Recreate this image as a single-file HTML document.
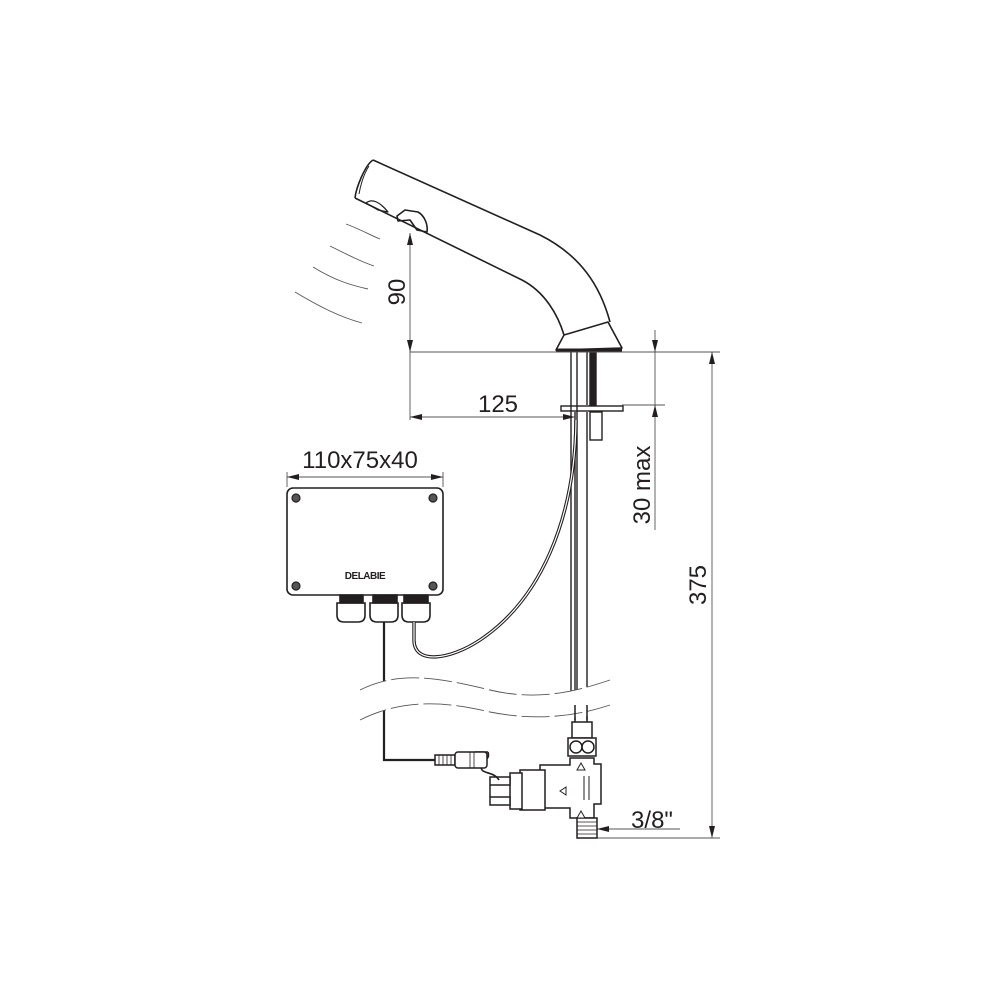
<!DOCTYPE html>
<html><head><meta charset="utf-8"><style>html,body{margin:0;padding:0;background:#fff}svg{display:block}text{font-family:"Liberation Sans",sans-serif;fill:#231f20}</style></head>
<body>
<svg width="1000" height="1000" viewBox="0 0 1000 1000" xmlns="http://www.w3.org/2000/svg">
<defs>
<marker id="a" viewBox="0 0 12 6" refX="12" refY="3" markerWidth="12" markerHeight="6" markerUnits="userSpaceOnUse" orient="auto-start-reverse"><path d="M0,0L12,3L0,6z" fill="#231f20"/></marker>
</defs>
<g fill="none" stroke="#231f20" stroke-width="1.6" stroke-linejoin="round">
<!-- spout -->
<path d="M373,160 L540,235 C580,255 600,285 610,322"/>
<path d="M355,198 L522,280 C545,292 558,315 564,335"/>
<path d="M373,160 C365,165 356,188 355,198"/>
<path d="M369,166 C363,175 360,188 359,194" stroke-width="1"/>
<path d="M366,203 C372,198 380,202 388,212 L378,210z" stroke-width="1.2"/>
<path d="M397,216 L405,210 L418,212 C425,216 428,225 427,232 L417,230 L410,220 L398,221z"/>
<!-- base -->
<path d="M564,335 L608,322 L622,348 L556,350 z"/>
<path d="M556,350 L622,350" stroke-width="3"/>
</g>
<g fill="none" stroke="#555" stroke-width="0.9">
<path d="M346,224 C362,230 372,236 380,239"/>
<path d="M330,246 C348,255 362,262 374,266"/>
<path d="M313,267 C334,280 350,285 368,289"/>
<path d="M295,292 C320,307 340,317 362,323"/>
</g>
<!-- shank -->
<g fill="none" stroke="#231f20" stroke-width="1.4">
<path d="M571,352 V700 M577,352 V700 M587,352 V405"/>
<rect x="590" y="352" width="6" height="53" fill="#231f20"/>
<rect x="561" y="406" width="62" height="5"/>
<rect x="590" y="412" width="12" height="28"/>
<path d="M575,412 V720 M587,412 V720"/>
</g>
<!-- dimensions -->
<g stroke="#555" stroke-width="0.9" fill="none">
<path d="M410,352 H720"/>
<path d="M410,233 V352" marker-start="url(#a)" marker-end="url(#a)"/>
<path d="M410,352 V420"/>
<path d="M410,417 H575" marker-start="url(#a)" marker-end="url(#a)"/>
<path d="M622,405 H665"/>
<path d="M655,330 V352" marker-end="url(#a)"/>
<path d="M655,352 V405"/>
<path d="M655,530 V405" marker-end="url(#a)"/>
<path d="M712,352 V838" marker-start="url(#a)" marker-end="url(#a)"/>
<path d="M597,838 H720"/>
<path d="M680,829 H597" marker-end="url(#a)"/>
<path d="M287,477 H443" marker-start="url(#a)" marker-end="url(#a)"/>
<path d="M287,472 V487 M443,472 V487"/>
</g>
<text x="498" y="412" font-size="24" text-anchor="middle">125</text>
<text x="360" y="468" font-size="24" text-anchor="middle">110x75x40</text>
<text x="652" y="828" font-size="24" text-anchor="middle">3/8"</text>
<text transform="translate(405,292) rotate(-90)" font-size="24" text-anchor="middle">90</text>
<text transform="translate(650,485) rotate(-90)" font-size="24" text-anchor="middle">30 max</text>
<text transform="translate(706,585) rotate(-90)" font-size="24" text-anchor="middle">375</text>
<!-- box -->
<g fill="none" stroke="#231f20" stroke-width="1.6">
<rect x="287" y="488" width="156" height="107" rx="6"/>
<g fill="#555" stroke-width="1.2"><circle cx="296" cy="498" r="4"/><circle cx="433" cy="498" r="4"/><circle cx="296" cy="586" r="4"/><circle cx="433" cy="586" r="4"/></g>
<path d="M340,595 h23 v8 h-23z M373,595 h24 v8 h-24z M404,595 h24 v8 h-24z" fill="#231f20"/>
<path d="M337,603 h28 v12 q0,7 -7,7 h-14 q-7,0 -7,-7z"/>
<path d="M370,603 h28 v12 q0,7 -7,7 h-14 q-7,0 -7,-7z"/>
<path d="M402,603 h28 v12 q0,7 -7,7 h-14 q-7,0 -7,-7z"/>
<path d="M384,622 V760 H435" stroke-width="2.2"/>
<path d="M414,622 V640 C414,665 450,660 480,640 C540,600 575,520 576,420" stroke-width="3.4"/>
<path d="M414,622 V640 C414,665 450,660 480,640 C540,600 575,520 576,420" stroke="#fff" stroke-width="1.2"/>
</g>
<text x="365" y="579" font-size="10" font-weight="bold" text-anchor="middle" style="font-family:'Liberation Sans';letter-spacing:-0.5px">DELABIE</text>
<!-- wavy break -->
<g fill="#fff" stroke="#555" stroke-width="0.9" stroke-dasharray="28,5">
<path d="M360,690 C400,670 440,678 490,690 C540,702 580,690 610,680 L610,710 C580,722 540,720 490,712 C440,700 400,700 360,720 z" stroke="none"/>
<path d="M360,690 C400,670 440,678 490,690 C540,702 580,690 610,680" fill="none"/>
<path d="M360,720 C400,700 440,700 490,712 C540,722 580,715 610,705" fill="none"/>
</g>
<!-- valve -->
<g fill="#fff" stroke="#231f20" stroke-width="1.5">
<path d="M575,705 V722 M587,705 V722" fill="none"/>
<rect x="572" y="722" width="20" height="16"/>
<rect x="568" y="738" width="28" height="18"/>
<circle cx="576" cy="747" r="6"/><circle cx="588" cy="747" r="6"/>
<path d="M570,758 h24 v6 h7 v40 h-7 v14 h-24 v-10 h-30 v-43 h30z"/>
<rect x="577" y="818" width="20" height="20"/>
<path d="M577,822 h20 M577,826 h20 M577,830 h20 M577,834 h20" stroke-width="0.8"/>
<path d="M584,776 V800 M589,776 V800" stroke-width="1"/>
<path d="M520,770 h25 v40 h-25z"/>
<path d="M510,773 h12 v36 h-12z"/>
<path d="M490,777 h20 v8 h-20z M490,797 h20 v8 h-20z"/>
<path d="M490,785 v12" />
<path d="M499,780 C493,770 478,775 482,765 C485,758 490,760 488,752 M488,752 H475" fill="none" stroke-width="1.6"/>
<rect x="435" y="755" width="20" height="10"/>
<rect x="455" y="752" width="32" height="16" rx="3"/>
<path d="M439,755 v10 M443,755 v10 M447,755 v10 M451,755 v10 M470,752 v16 M474,752 v16" stroke-width="0.8"/>
<path d="M577,770 l4,-7 l4,7z M577,818 l4,-7 l4,7z M566,787 l-6,4 l6,4z" stroke-width="1"/>
</g>
</svg>
</body></html>
